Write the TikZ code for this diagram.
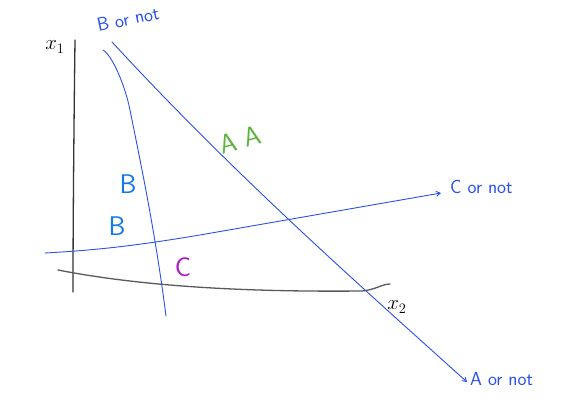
\documentclass[tikz,border=0pt]{standalone}
\usetikzlibrary{arrows.meta}
\begin{document}
\begin{tikzpicture}[x=1pt,y=-1pt,
  pen/.style={line width=0.9pt, draw=penblue, line cap=round},
  axis/.style={line width=1.3pt, draw=black!80, line cap=round},
  hand/.style={font=\sffamily\fontsize{19}{21}\selectfont, inner sep=0pt},
  big/.style={font=\sffamily\fontsize{27}{29}\selectfont},
  tip/.style={-{Straight Barb[length=4pt,width=5pt]}}]
\definecolor{penblue}{RGB}{40,80,235}
\definecolor{labblue}{RGB}{20,120,235}
\definecolor{labgreen}{RGB}{90,180,60}
\definecolor{labpurple}{RGB}{170,30,200}
\useasboundingbox (0,0) rectangle (584,404);
% axes
\coordinate (ytop) at (75,40);
\coordinate (ybot) at (73,292);
\coordinate (xl) at (58,270);
\coordinate (xr) at (390,284);
\draw[axis] (ytop) .. controls (74,120) and (73,220) .. (ybot);
\draw[axis, draw=black!65] (xl) .. controls (150,288) and (260,292) .. (362,291) .. controls (375,290) and (382,284) .. (xr);
\node[inner sep=0pt, font=\fontsize{22}{24}\selectfont] (x1) at (55,47) {$x_1$};
\node[inner sep=0pt, font=\fontsize{22}{24}\selectfont] (x2) at (397,307) {$x_2$};
% B line
\coordinate (b1) at (103,50);
\coordinate (b2) at (166,316);
\draw[pen] (b1) .. controls (112,55) and (125,85) .. (130,110) .. controls (140,160) and (155,230) .. (b2);
% A line
\coordinate (a1) at (112,42);
\coordinate (a2) at (467,382);
\draw[pen, tip] (a1) .. controls (232,172) and (347,274) .. (a2);
% C line
\coordinate (c1) at (45,253);
\coordinate (c2) at (441,193);
\draw[pen, tip] (c1) .. controls (100,250) and (140,245) .. (200,235) -- (c2);
% labels
\node[hand, text=penblue, rotate=12] (lb) at (128,19) {B or not};
\node[hand, text=penblue, anchor=west] (lc) at (450,187) {C or not};
\node[hand, text=penblue, anchor=west] (la) at (470,379) {A or not};
\node[hand, big, text=labgreen, rotate=15] (aa) at (240,140) {A A};
\node[hand, big, text=labblue] (bb1) at (128,184) {B};
\node[hand, big, text=labblue] (bb2) at (117,226) {B};
\node[hand, big, text=labpurple] (cc) at (183,267) {C};
\end{tikzpicture}
\end{document}
